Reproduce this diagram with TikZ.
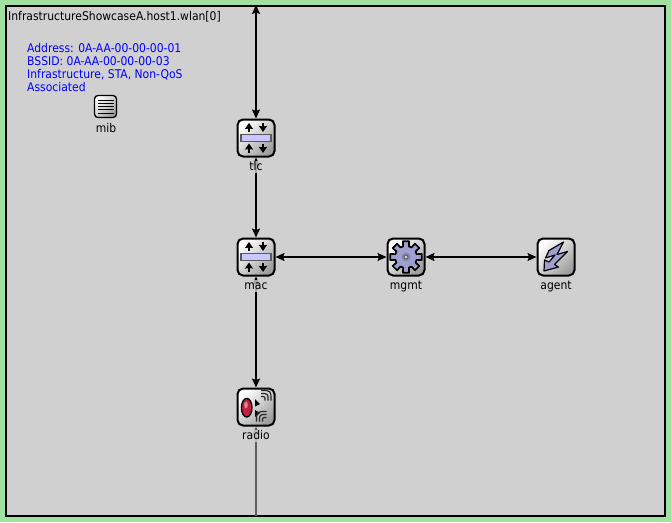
\documentclass[tikz,border=0pt]{standalone}
\usepackage{fontspec}
\setmainfont{DejaVu Sans Condensed}
\usetikzlibrary{arrows.meta}
\definecolor{bggreen}{HTML}{A0E0A0}
\definecolor{modgray}{HTML}{D0D0D0}
\definecolor{lav}{HTML}{C8C8FF}
\definecolor{gearlav}{HTML}{A0A0D0}
\definecolor{wire}{HTML}{606060}
\definecolor{crimson}{HTML}{C02040}
\tikzset{
  x=1pt,y=-1pt,
  modbox/.style={draw=black,line width=2pt,rounded corners=5.5pt,minimum size=37pt,inner sep=0pt,
    top color=white,bottom color=black!38,shading angle=45},
  mibbox/.style={modbox,line width=1.3pt,minimum size=22pt,rounded corners=3.5pt},
  lbl/.style={font=\fontsize{12}{12}\selectfont,text=black,inner sep=0.5pt,anchor=base,
    text height=8.5pt,text depth=2.5pt,fill=modgray,fill opacity=0.8,text opacity=1},
  info/.style={font=\fontsize{12}{13}\selectfont,text=blue,inner sep=0pt,anchor=base west},
  conn/.style={line width=1.5pt,black,{Stealth[length=9pt,width=8pt,inset=1.5pt]}-{Stealth[length=9pt,width=8pt,inset=1.5pt]}},
  wireconn/.style={line width=2pt,wire,-{Stealth[length=9pt,width=8pt,inset=1.5pt]}},
  smallarr/.style={line width=1.7pt,black,-{Stealth[length=6pt,width=8pt,inset=0.5pt]}},
  pics/busicon/.style={code={
    \draw[draw=black!65,line width=1.4pt,fill=lav] (-15,-3.7) rectangle (15,3.7);
    \draw[smallarr] (-7,-6) -- (-7,-15);
    \draw[smallarr] (7,-15) -- (7,-6);
    \draw[smallarr] (-7,15) -- (-7,5.5);
    \draw[smallarr] (7,5.5) -- (7,15);
  }},
  pics/gearicon/.style={code={
    \draw[draw=black,line width=1.7pt,fill=gearlav,line join=round] (-15:11)
      \foreach \a in {0,45,...,315}{ -- ({\a-15}:11) -- ({\a-11}:16) -- ({\a+11}:16) -- ({\a+15}:11)} -- cycle;
    \fill[gearlav!85!black] (0,0) circle (4.5);
    \fill[black!60] (0,0) circle (2.6);
    \fill[white!85!black] (0,0) circle (1.4);
  }},
  pics/bolticon/.style={code={
    \draw[draw=black,line width=1.2pt,fill=gearlav,line join=round]
      (7.5,-15) -- (-7,-6.5) -- (-10.5,1) -- (-1,-2) -- (-7,5) -- (-11.5,3) -- (-12,14) -- (2.5,10) -- (-1.5,7.5) -- (11.5,-5.5) -- (1,-2.5) -- cycle;
  }},
  pics/radioicon/.style={code={
    \draw[black,line width=1.3pt,fill=crimson] (-9.3,0.7) ellipse (5.3 and 9.3);
    \fill[crimson!55!white] (-10,-2) ellipse (1.8 and 3.5);
    \fill[black] (-1,-8) -- (4,-3) -- (-1,-0.5) -- cycle;
    \fill[black] (-1,10) -- (4,6) -- (-1,3) -- cycle;
    \foreach \r in {4,7,10}{
      \draw[black!85,line width=1.2pt] (5,-6.5-\r) .. controls (5+\r,-6.5-\r) .. (5+\r,-6.5);
      \draw[black!85,line width=1.2pt] (10.5-\r,14.5) .. controls (10.5-\r,14.5-\r) .. (10.5,14.5-\r);
    }
  }},
  pics/mibicon/.style={code={
    \foreach \yy in {-6.5,-3.25,0,3.25,6.5}{\draw[black,line width=1pt] (-8,\yy) -- (8,\yy);}
  }},
}
\begin{document}
\begin{tikzpicture}
\useasboundingbox (0,0) rectangle (671,522);
\fill[bggreen] (0,0) rectangle (671,522);
\node[draw=black,line width=2pt,outer sep=0pt,fill=modgray,inner sep=0pt,minimum width=659.5pt,minimum height=510.5pt,anchor=center] (module) at (335.25,260.75) {};

\node[modbox] (tlc) at (256,138) {};
\node[modbox] (mac) at (256,257) {};
\node[modbox] (mgmt) at (406,257) {};
\node[modbox] (agent) at (556,257) {};
\node[modbox] (radio) at (256,407) {};
\node[mibbox] (mib) at (105.5,106.5) {};
\coordinate (upper) at (256,5);
\coordinate (lower) at (256,516);

\draw[conn] (upper) -- (tlc);
\draw[conn] (tlc) -- (mac);
\draw[conn] (mac) -- (radio);
\draw[conn] (mac) -- (mgmt);
\draw[conn] (mgmt) -- (agent);
\draw[wireconn] (lower) -- (radio);

\pic at (tlc.center) {busicon};
\pic at (mac.center) {busicon};
\pic at (mgmt.center) {gearicon};
\pic at (agent.center) {bolticon};
\pic at (radio.center) {radioicon};
\pic at (mib.center) {mibicon};

\node[lbl] (tlclabel) at (256,170) {tlc};
\node[lbl] (maclabel) at (256,289) {mac};
\node[lbl] (mgmtlabel) at (406,289) {mgmt};
\node[lbl] (agentlabel) at (556,289) {agent};
\node[lbl] (radiolabel) at (256,439) {radio};
\node[lbl] (miblabel) at (106,132) {mib};

\node[font=\fontsize{12}{12}\selectfont,inner sep=0pt,anchor=base west] (title) at (8,20) {InfrastructureShowcaseA.host1.wlan[0]};
\node[info] (l1) at (27,52) {Address: 0A-AA-00-00-00-01};
\node[info] (l2) at (27,65) {BSSID: 0A-AA-00-00-00-03};
\node[info] (l3) at (27,78) {Infrastructure, STA, Non-QoS};
\node[info] (l4) at (27,91) {Associated};
\end{tikzpicture}
\end{document}
